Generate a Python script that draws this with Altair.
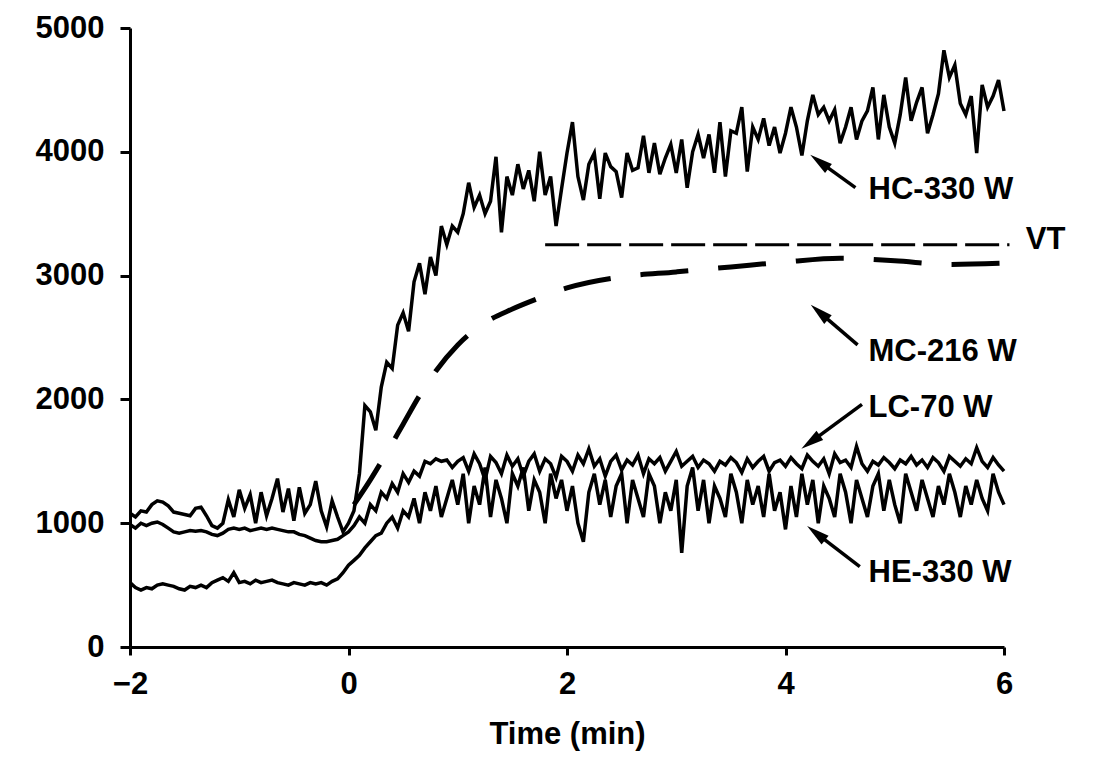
import altair as alt
import pandas as pd

# ---- data (time step 0.05 min from -2 to 6) ----
hc_330 = [1080, 1050, 1100, 1090, 1150, 1180, 1170, 1140, 1090, 1080,
          1070, 1060, 1120, 1130, 1060, 980, 960, 1000, 1190, 1050,
          1270, 1120, 1230, 1000, 1250, 1060, 1200, 1360, 1090, 1280,
          1020, 1290, 1080, 1150, 1340, 1100, 970, 1180, 1050, 930,
          1000, 1100, 1400, 1950, 1900, 1750, 2100, 2300, 2250, 2600,
          2700, 2550, 2950, 3100, 2850, 3150, 3000, 3400, 3250, 3400,
          3350, 3500, 3750, 3550, 3650, 3500, 3600, 3960, 3350, 3800,
          3650, 3900, 3700, 3850, 3600, 4000, 3650, 3800, 3400, 3700,
          3990, 4240, 3800, 3610, 3900, 3990, 3620, 3990, 3880, 3840,
          3630, 3990, 3850, 3870, 4130, 3830, 4070, 3820, 3950, 4060,
          3830, 4100, 3710, 4000, 4140, 3950, 4140, 3830, 4240, 3800,
          4170, 4150, 4360, 3840, 4200, 4100, 4270, 4050, 4200, 3990,
          4150, 4360, 4200, 3970, 4250, 4460, 4300, 4360, 4250, 4340,
          4070, 4200, 4360, 4100, 4250, 4330, 4520, 4100, 4460, 4200,
          4070, 4300, 4600, 4250, 4400, 4520, 4150, 4300, 4470, 4820,
          4600, 4700, 4390, 4300, 4450, 3990, 4540, 4360, 4450, 4580,
          4330]

lc_70 = [990, 960, 1000, 980, 1000, 1010, 990, 960, 930, 920,
         930, 940, 935, 940, 930, 910, 900, 920, 950, 960,
         950, 960, 940, 950, 960, 950, 960, 950, 940, 930,
         930, 910, 900, 880, 860, 850, 850, 860, 870, 900,
         930, 980, 1050, 1000, 1150, 1100, 1250, 1200, 1320, 1250,
         1400, 1330, 1420, 1380, 1500, 1480, 1520, 1500, 1510, 1450,
         1500, 1530, 1420, 1560, 1480, 1350, 1540, 1490, 1400, 1550,
         1460, 1520, 1380, 1500, 1560, 1420, 1520, 1480, 1370, 1540,
         1500, 1420, 1550, 1480, 1600, 1460, 1520, 1380, 1500, 1550,
         1430, 1510, 1470, 1550, 1400, 1520, 1480, 1530, 1420, 1500,
         1580, 1460, 1500, 1540, 1450, 1510, 1480, 1420, 1500, 1470,
         1530, 1490, 1410, 1520, 1450, 1500, 1540, 1420, 1490, 1510,
         1460, 1530, 1480, 1440, 1550, 1500, 1460, 1520, 1400, 1560,
         1490, 1510, 1450, 1620, 1480, 1420, 1500, 1470, 1530, 1490,
         1440, 1510, 1480, 1540, 1470, 1510, 1450, 1530, 1490, 1420,
         1540, 1500, 1460, 1520, 1480, 1610, 1500, 1450, 1530, 1470,
         1420]

he_330 = [520, 480, 460, 480, 470, 500, 510, 500, 490, 470,
          460, 490, 480, 500, 480, 520, 540, 560, 530, 600,
          520, 530, 510, 540, 520, 530, 540, 520, 510, 500,
          520, 510, 500, 520, 510, 520, 500, 530, 550, 600,
          660, 700, 740, 800, 850, 900, 920, 1000, 1050, 960,
          1100, 1050, 1200, 1000, 1250, 1100, 1300, 1050, 1200, 1350,
          1150, 1400, 1000, 1300, 1150, 1450, 1050, 1350, 1200, 1000,
          1400, 1300, 1450, 1100, 1350, 1250, 1000, 1400, 1200, 1350,
          1100, 1300, 1000, 850, 1250, 1400, 1150, 1350, 1050, 1300,
          1400, 1000, 1350, 1200, 1050, 1400, 1300, 1000, 1250, 1100,
          1350, 760, 1300, 1450, 1100, 1350, 1000, 1300, 1200, 1050,
          1400, 1250, 1000, 1350, 1150, 1300, 1050, 1400, 1100, 1250,
          950, 1300, 1050, 1400, 1150, 1350, 1000, 1300, 1200, 1050,
          1400, 1250, 1000, 1350, 1200, 1050, 1300, 1400, 1100, 1350,
          1150, 1000, 1400, 1250, 1100, 1350, 1200, 1050, 1300, 1150,
          1400, 1250, 1050, 1300, 1150, 1350, 1200, 1100, 1400, 1250,
          1150]

mc_t = [0.05, 0.2, 0.35, 0.5, 0.65, 0.8, 1.0, 1.25, 1.5, 1.75, 2.0,
        2.5, 3.0, 3.5, 4.0, 4.5, 5.0, 5.5, 6.0]
mc_216 = [1150, 1350, 1570, 1800, 2030, 2230, 2440, 2620, 2730, 2820, 2900,
          2990, 3030, 3070, 3110, 3140, 3120, 3090, 3100]

vt_t = [1.8, 6.05]
vt_v = [3250, 3250]

labels = ["HC-330 W", "VT", "MC-216 W", "LC-70 W", "HE-330 W"]
label_t = [4.76, 6.2, 4.76, 4.76, 4.76]
label_v = [3690, 3290, 2380, 1930, 600]

arrow_t0 = [4.64, 4.66, 4.70, 4.68]
arrow_v0 = [3710, 2440, 1960, 650]
arrow_t1 = [4.31, 4.31, 4.23, 4.28]
arrow_v1 = [3920, 2705, 1655, 920]
arrow_angle = [307, 311, 234, 308]

# ---- tables ----
def series_frame(vals, name):
    return pd.DataFrame({"t": [round(-2 + 0.05 * i, 2) for i in range(len(vals))],
                         "v": vals, "series": name})

noisy = pd.concat([series_frame(hc_330, "HC-330 W"),
                   series_frame(lc_70, "LC-70 W"),
                   series_frame(he_330, "HE-330 W")])
mc = pd.DataFrame({"t": mc_t, "v": mc_216})
vt = pd.DataFrame({"t": vt_t, "v": vt_v})
lab = pd.DataFrame({"t": label_t, "v": label_v, "text": labels})
arr = pd.DataFrame({"t0": arrow_t0, "v0": arrow_v0, "t1": arrow_t1,
                    "v1": arrow_v1, "angle": arrow_angle})

FONT = "Liberation Sans"
xs = alt.Scale(domain=[-2, 6], nice=False, zero=False)
ys = alt.Scale(domain=[0, 5000], nice=False)

x_axis = alt.Axis(values=[-2, 0, 2, 4, 6], format="d", title="Time (min)", grid=False,
                  labelFontSize=31, labelFont=FONT, labelFontWeight="bold",
                  titleFontSize=31, titleFont=FONT, titleFontWeight="bold",
                  labelPadding=14, titlePadding=20, tickSize=8, tickWidth=3,
                  domainWidth=3, domainColor="black", tickColor="black",
                  labelColor="black", titleColor="black", labelFlush=False)
y_axis = alt.Axis(values=[0, 1000, 2000, 3000, 4000, 5000], format="d", title=None,
                  grid=False, labelFontSize=31, labelFont=FONT, labelFontWeight="bold",
                  labelPadding=16, tickSize=10, tickWidth=3, domainWidth=3,
                  domainColor="black", tickColor="black", labelColor="black",
                  labelFlush=False)

lines = alt.Chart(noisy).mark_line(color="black", strokeWidth=3.5, clip=False).encode(
    x=alt.X("t:Q", scale=xs, axis=x_axis),
    y=alt.Y("v:Q", scale=ys, axis=y_axis),
    detail="series:N",
)

mc_line = alt.Chart(mc).mark_line(color="black", strokeWidth=5,
                                  strokeDash=[48, 30], interpolate="monotone").encode(
    x=alt.X("t:Q", scale=xs), y=alt.Y("v:Q", scale=ys))

vt_line = alt.Chart(vt).mark_line(color="black", strokeWidth=3,
                                  strokeDash=[34, 8], clip=False).encode(
    x=alt.X("t:Q", scale=xs), y=alt.Y("v:Q", scale=ys))

text = alt.Chart(lab).mark_text(align="left", baseline="middle", font=FONT,
                                fontSize=31, fontWeight="bold", color="black",
                                clip=False).encode(
    x=alt.X("t:Q", scale=xs), y=alt.Y("v:Q", scale=ys), text="text:N")

arrow_lines = alt.Chart(arr).mark_rule(color="black", strokeWidth=3.5).encode(
    x=alt.X("t0:Q", scale=xs), y=alt.Y("v0:Q", scale=ys),
    x2="t1:Q", y2="v1:Q")

arrow_heads = alt.Chart(arr).mark_point(shape="M0,-1L0.5,1L-0.5,1Z", filled=True,
                                        color="black", size=520, opacity=1).encode(
    x=alt.X("t1:Q", scale=xs), y=alt.Y("v1:Q", scale=ys),
    angle=alt.Angle("angle:Q", scale=None))

chart = alt.layer(lines, mc_line, vt_line, arrow_lines, arrow_heads, text).properties(
    width=874, height=619,
    autosize=alt.AutoSizeParams(type="none"),
    padding={"left": 122, "top": 20, "right": 84, "bottom": 107},
    background="white",
).configure_view(stroke=None)

chart.save("out.html", embed_options={"renderer": "svg", "actions": False})
